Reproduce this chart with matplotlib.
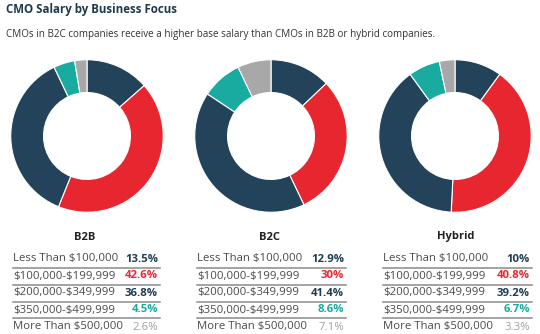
import matplotlib.pyplot as plt
from matplotlib.lines import Line2D

plt.rcParams['font.family'] = ['Open Sans', 'DejaVu Sans']
plt.rcParams['text.parse_math'] = False

groups = ['B2B', 'B2C', 'Hybrid']
brackets = ['Less Than $100,000', '$100,000-$199,999', '$200,000-$349,999',
            '$350,000-$499,999', 'More Than $500,000']
b2b = [13.5, 42.6, 36.8, 4.5, 2.6]
b2c = [12.9, 30, 41.4, 8.6, 7.1]
hybrid = [10, 40.8, 39.2, 6.7, 3.3]
shares = [b2b, b2c, hybrid]

navy = '#22435a'
red = '#e8262f'
teal = '#19aba0'
gray = '#a8a8a8'
colors = [navy, red, navy, teal, gray]
txt_colors = ['#1f3d55', red, '#1f3d55', teal, '#a0a0a0']

W, H = 540, 334
fig = plt.figure(figsize=(W / 100, H / 100), dpi=100)

def fx(px):
    return px / W

def fy(py):
    return 1 - py / H

fig.text(fx(6), fy(10), 'CMO Salary by Business Focus', fontsize=8.3,
         fontweight='bold', color='#1f3a4d', va='center', ha='left')
fig.text(fx(6), fy(35), 'CMOs in B2C companies receive a higher base salary than CMOs in B2B or hybrid companies.',
         fontsize=7.1, color='#333333', va='center', ha='left')

centers = [87, 271, 455]
R = 77
tables = [(13, 160), (197, 346), (383, 532)]
row_y = [259, 276, 293, 310, 327]
line_y = [268, 285, 302, 318]

for i, g in enumerate(groups):
    cx = centers[i]
    ax = fig.add_axes([fx(cx - R), fy(136 + R), 2 * R / W, 2 * R / H])
    ax.pie(shares[i], colors=colors, startangle=90, counterclock=False,
           wedgeprops=dict(width=0.43, edgecolor='white', linewidth=0.8))
    ax.set_xlim(-1.01, 1.01)
    ax.set_ylim(-1.01, 1.01)
    ax.axis('off')

    x0, x1 = tables[i]
    fig.text(fx((x0 + x1) / 2 - 2), fy(237), g, fontsize=8, fontweight='bold',
             color='#222222', ha='center', va='center')
    for j, b in enumerate(brackets):
        fig.text(fx(x0), fy(row_y[j]), b, fontsize=8.2, color='#4a4a4a',
                 ha='left', va='center')
        fig.text(fx(x1 - 2), fy(row_y[j]), '{:g}%'.format(shares[i][j]),
                 fontsize=8.2, color=txt_colors[j],
                 fontweight='normal' if j == 4 else 'bold',
                 ha='right', va='center')
    for ly in line_y:
        fig.add_artist(Line2D([fx(x0), fx(x1)], [fy(ly), fy(ly)],
                              color='#8a8a8a', linewidth=1.1))

fig.savefig('out.png', dpi=100)
